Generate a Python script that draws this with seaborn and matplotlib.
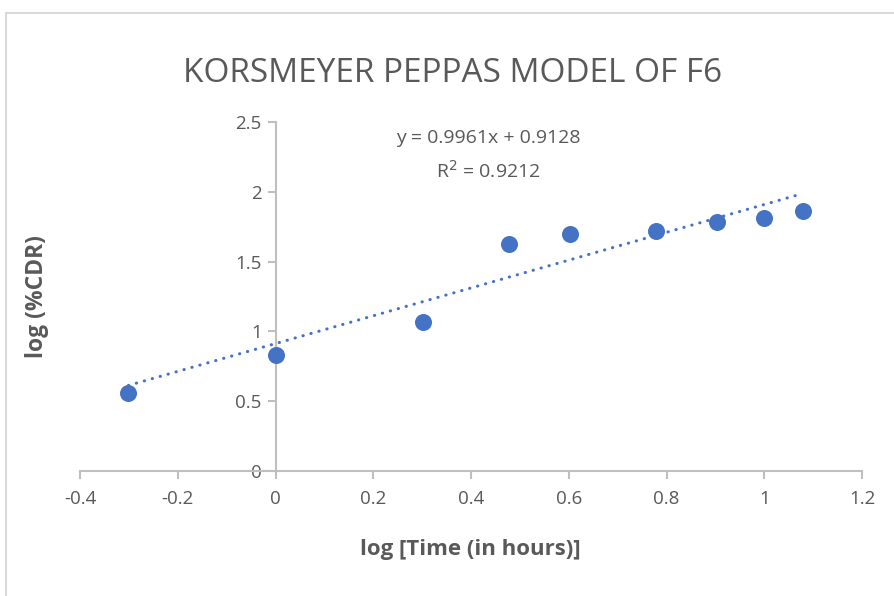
import matplotlib
matplotlib.use("Agg")
import matplotlib.pyplot as plt
from matplotlib.patches import Rectangle
from matplotlib.ticker import FuncFormatter, MultipleLocator
import seaborn as sns
import pandas as pd

# log(time in hours) vs log(% cumulative drug release)
log_time = [-0.301, 0.0, 0.301, 0.477, 0.602, 0.778, 0.903, 1.0, 1.079]
log_cdr = [0.56, 0.83, 1.065, 1.627, 1.699, 1.722, 1.783, 1.810, 1.862]

# Fitted trendline as reported
slope = 0.9961
intercept = 0.9128
r_squared = 0.9212

title = "KORSMEYER PEPPAS MODEL OF F6"
x_label = "log [Time (in hours)]"
y_label = "log (%CDR)"

df = pd.DataFrame({"log_time": log_time, "log_cdr": log_cdr})

sns.set_theme(style="white")
plt.rcParams["font.family"] = ["Open Sans", "DejaVu Sans"]

blue = "#4472C4"
grey_text = "#595959"
axis_grey = "#BFBFBF"

fig = plt.figure(figsize=(8.94, 5.96), dpi=100)
ax = fig.add_axes([80 / 894, 1 - 471 / 596, (862 - 80) / 894, (471 - 122) / 596])

# Chart-area outline
fig.patches.append(Rectangle((6 / 894, -0.05), 1.1, 1 - 13 / 596 + 0.05,
                             transform=fig.transFigure, fill=False,
                             edgecolor="#D9D9D9", linewidth=1.5))

# Trendline
x0, x1 = min(log_time), max(log_time)
trend = pd.DataFrame({"x": [x0, x1], "y": [slope * x0 + intercept, slope * x1 + intercept]})
ax.plot(trend["x"], trend["y"], color=blue, linewidth=2.2,
        linestyle=(0, (0.1, 2.6)), dash_capstyle="round", zorder=2)

sns.scatterplot(data=df, x="log_time", y="log_cdr", ax=ax, color=blue,
                s=150, edgecolor=blue, linewidth=0, zorder=3, legend=False)

ax.set_xlim(-0.4, 1.2)
ax.set_ylim(0, 2.5)
ax.xaxis.set_major_locator(MultipleLocator(0.2))
ax.yaxis.set_major_locator(MultipleLocator(0.5))
fmt = FuncFormatter(lambda v, p: f"{v:g}" if abs(v) > 1e-9 else "0")
ax.xaxis.set_major_formatter(fmt)
ax.yaxis.set_major_formatter(fmt)

for side in ("top", "right"):
    ax.spines[side].set_visible(False)
ax.spines["left"].set_position(("data", 0))
for side in ("left", "bottom"):
    ax.spines[side].set_color(axis_grey)
    ax.spines[side].set_linewidth(1.5)

ax.tick_params(axis="x", which="major", direction="out", length=6, width=1.5,
               color=axis_grey, labelsize=13.5, labelcolor=grey_text, pad=8, bottom=True)
ax.tick_params(axis="y", which="major", direction="out", length=6, width=1.5,
               color=axis_grey, labelsize=13.5, labelcolor=grey_text, pad=4, left=True)

ax.set_xlabel("")
ax.set_ylabel("")
fig.text(470 / 894, 1 - 549 / 596, x_label, ha="center", va="center",
         fontsize=16, fontweight="bold", color=grey_text)
fig.text(37 / 894, 1 - 297 / 596, y_label, rotation=90, ha="center", va="center",
         fontsize=16.5, fontweight="bold", color=grey_text)

fig.text(453 / 894, 1 - 73 / 596, title, ha="center", va="center",
         fontsize=24, color=grey_text)

ax.text(0.435, 2.385, f"y = {slope}x + {intercept}", ha="center", va="center",
        fontsize=14, color=grey_text)
ax.text(0.435, 2.15, f"R$^2$ = {r_squared}", ha="center", va="center",
        fontsize=14, color=grey_text)

fig.savefig("out.png", dpi=100)
